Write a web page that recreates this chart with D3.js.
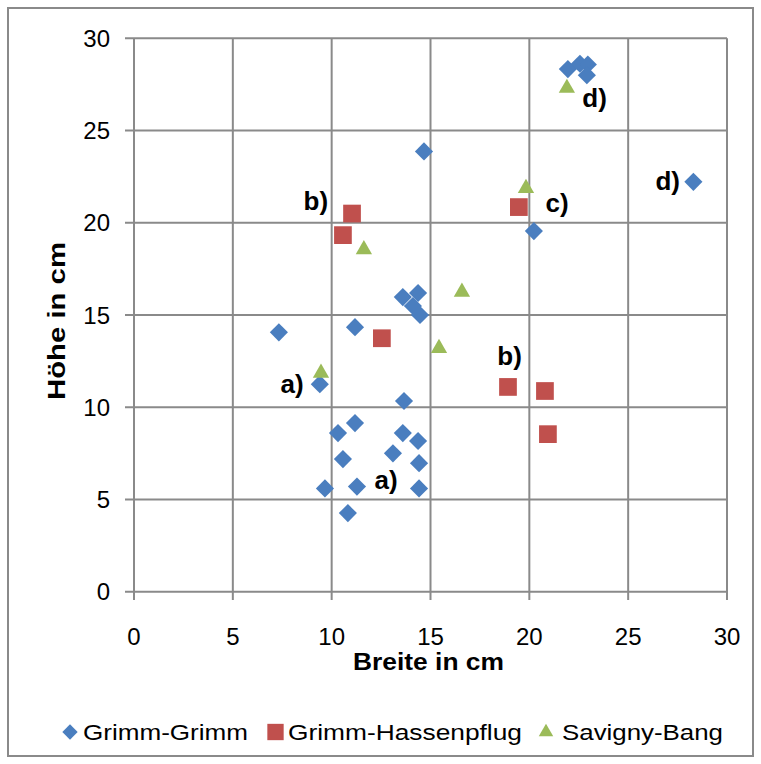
<!DOCTYPE html>
<html>
<head>
<meta charset="utf-8">
<script src="https://cdn.jsdelivr.net/npm/d3@7"></script>
<style>
  body { margin: 0; background: #fff; }
  svg text { font-family: "Liberation Sans", Arial, sans-serif; }
</style>
</head>
<body>
<svg id="chart" width="761" height="764"></svg>
<script>
// series data (Breite, Höhe in cm)
const grimmGrimm = [
  [7.33, 14.06], [9.4, 11.25], [11.18, 14.34],
  [13.6, 15.97], [14.37, 16.19], [14.11, 15.49], [14.47, 15.0],
  [13.66, 10.34], [11.18, 9.14], [10.32, 8.6], [13.6, 8.6], [14.37, 8.17],
  [10.57, 7.19], [13.1, 7.5], [14.42, 6.97], [9.66, 5.6], [11.28, 5.7],
  [14.42, 5.6], [10.82, 4.26], [14.67, 23.87], [20.23, 19.55], [28.3, 22.22],
  [21.95, 28.33], [22.56, 28.62], [22.96, 28.58], [22.91, 28.0]
];
const grimmHassenpflug = [
  [11.03, 20.5], [10.57, 19.33], [12.54, 13.74],
  [18.92, 11.1], [20.79, 10.88], [20.94, 8.54], [19.47, 20.85]
];
const savignyBang = [
  [9.46, 11.86], [11.63, 18.55], [16.59, 16.25],
  [15.43, 13.2], [19.83, 21.87], [21.9, 27.3]
];
const seriesNames = ["Grimm-Grimm", "Grimm-Hassenpflug", "Savigny-Bang"];
const tickValues = [0, 5, 10, 15, 20, 25, 30];
// annotation labels placed in data units
const notes = [
  ["a)", 8.0, 11.3], ["a)", 12.75, 6.1], ["b)", 9.2, 21.2], ["b)", 19.0, 12.8],
  ["c)", 21.4, 21.1], ["d)", 23.3, 26.8], ["d)", 27.0, 22.3]
];

const svg = d3.select("#chart");
const colors = ["#4a7ebf", "#c0504d", "#9bbb59"];
const symbols = [d3.symbolDiamond2, d3.symbolSquare2, d3.symbolTriangle2];

const x = d3.scaleLinear().domain([0, 30]).range([134, 727]);
const y = d3.scaleLinear().domain([0, 30]).range([591.7, 38.3]);

// outer frame
svg.append("rect").attr("x", 8).attr("y", 8).attr("width", 745).attr("height", 748)
  .attr("fill", "#fff").attr("stroke", "#8a8a8a").attr("stroke-width", 2);

// gridlines
const grid = svg.append("g").attr("stroke", "#8a8a8a").attr("stroke-width", 2);
grid.selectAll(".gy").data(tickValues).enter().append("line")
  .attr("x1", 125).attr("x2", 727).attr("y1", d => y(d)).attr("y2", d => y(d));
grid.selectAll(".gx").data(tickValues).enter().append("line")
  .attr("x1", d => x(d)).attr("x2", d => x(d)).attr("y1", 38.3).attr("y2", 600);

// tick labels
svg.selectAll(".ty").data(tickValues).enter().append("text")
  .attr("x", 110).attr("y", d => y(d)).attr("dy", "0.36em")
  .attr("text-anchor", "end").attr("font-size", 24).text(d => d);
svg.selectAll(".tx").data(tickValues).enter().append("text")
  .attr("x", d => x(d)).attr("y", 636).attr("dy", "0.36em")
  .attr("text-anchor", "middle").attr("font-size", 24).text(d => d);

// axis titles
svg.append("text").attr("x", 353).attr("y", 670)
  .attr("font-size", 23).attr("font-weight", "bold")
  .attr("textLength", 151).attr("lengthAdjust", "spacingAndGlyphs").text("Breite in cm");
svg.append("text").attr("transform", "translate(65,400) rotate(-90)")
  .attr("font-size", 23).attr("font-weight", "bold")
  .attr("textLength", 158).attr("lengthAdjust", "spacingAndGlyphs").text("Höhe in cm");

// points
const allSeries = [grimmGrimm, grimmHassenpflug, savignyBang];
const sizes = [210, 400, 190];
allSeries.forEach((data, i) => {
  svg.append("g").selectAll("path").data(data).enter().append("path")
    .attr("transform", d => `translate(${x(d[0])},${y(d[1])})`)
    .attr("d", d3.symbol().type(symbols[i]).size(sizes[i]))
    .attr("fill", colors[i]);
});

// annotations
svg.selectAll(".note").data(notes).enter().append("text")
  .attr("x", d => x(d[1])).attr("y", d => y(d[2])).attr("dy", "0.36em")
  .attr("text-anchor", "middle").attr("font-size", 26).attr("font-weight", "bold")
  .text(d => d[0]);

// legend
const legendX = [70, 275.5, 546];
const legendText = [83, 288, 562];
const legendLen = [165, 234, 161];
const leg = svg.append("g").selectAll("g").data(seriesNames).enter().append("g");
leg.append("path")
  .attr("transform", (d, i) => `translate(${legendX[i]},732)`)
  .attr("d", (d, i) => d3.symbol().type(symbols[i]).size([150, 340, 150][i])())
  .attr("fill", (d, i) => colors[i]);
leg.append("text").attr("x", (d, i) => legendText[i]).attr("y", 740)
  .attr("font-size", 22)
  .attr("textLength", (d, i) => legendLen[i]).attr("lengthAdjust", "spacingAndGlyphs")
  .text(d => d);
</script>
</body>
</html>
